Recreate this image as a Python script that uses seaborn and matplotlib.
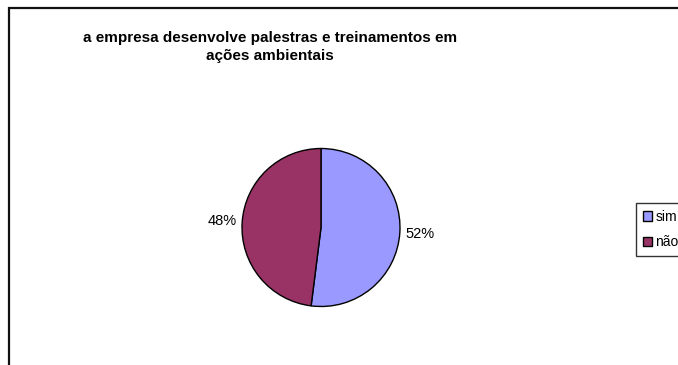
import matplotlib
matplotlib.use("Agg")
import matplotlib.pyplot as plt
from matplotlib.patches import Rectangle
import seaborn as sns

# Survey answers
categories = ["sim", "não"]
shares = [52, 48]
colors = ["#9999FF", "#993366"]
title = "a empresa desenvolve palestras e treinamentos em\nações ambientais"

sns.set_theme(style="white")
plt.rcParams["font.family"] = ["Liberation Sans", "DejaVu Sans"]
plt.rcParams["text.color"] = "black"

W, H = 678, 365
fig = plt.figure(figsize=(W / 100, H / 100), dpi=100)
fig.patch.set_facecolor("white")

# chart area frame (extends past the right and bottom edges)
fig.patches.append(Rectangle((9 / W, -0.2), 2.0, (H - 8) / H + 0.2,
                             transform=fig.transFigure, fill=False,
                             edgecolor="#111111", lw=1.6, zorder=0))

# pie axes centred on the plot area
r = 79
cx, cy = 321, 227.5
ax = fig.add_axes([(cx - r) / W, (H - cy - r) / H, 2 * r / W, 2 * r / H])
wedges, _, autotexts = ax.pie(
    shares, colors=colors, startangle=90, counterclock=False,
    autopct="%1.0f%%", pctdistance=1.25, radius=1.0,
    wedgeprops=dict(edgecolor="black", linewidth=1.0),
    textprops=dict(fontsize=10.5, color="black"),
)
ax.set_xlim(-1, 1)
ax.set_ylim(-1, 1)
ax.set_aspect("auto")
ax.axis("off")

fig.text(270 / W, 1 - 47 / H, title, ha="center", va="center",
         fontsize=11, fontweight="bold", linespacing=1.4, color="black")

leg = fig.legend(wedges, categories, loc="upper left",
                 bbox_to_anchor=(636 / W, 1 - 203 / H),
                 frameon=True, fancybox=False, fontsize=10,
                 handlelength=0.65, handleheight=0.65, handletextpad=0.25,
                 borderpad=0.5, borderaxespad=0, labelspacing=0.8)
leg.get_frame().set_edgecolor("black")
leg.get_frame().set_linewidth(1.0)
for h in leg.legend_handles:
    h.set_edgecolor("black")
    h.set_linewidth(1.0)

fig.savefig("out.png", dpi=100)
